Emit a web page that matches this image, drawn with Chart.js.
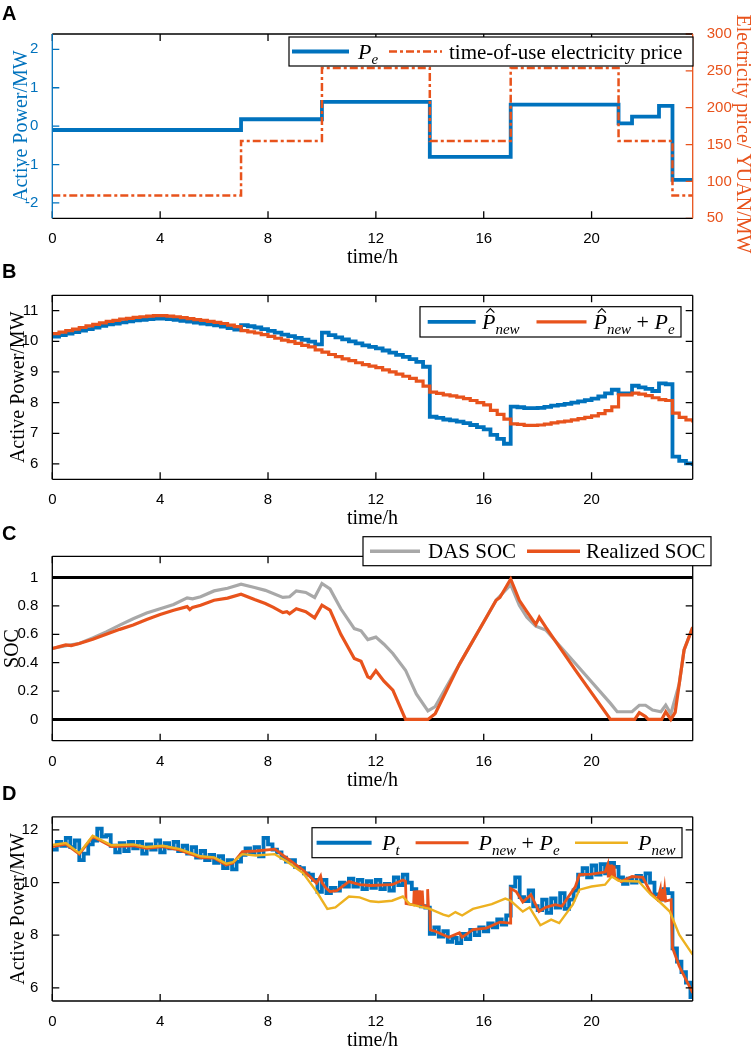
<!DOCTYPE html>
<html>
<head>
<meta charset="utf-8">
<title>Battery dispatch - active power, SOC and price</title>
<script src="https://cdn.jsdelivr.net/npm/chart.js@4.4.1/dist/chart.umd.min.js"></script>
<style>
  html, body { margin: 0; padding: 0; background: #fff; }
  #page { position: relative; width: 754px; height: 1048px; overflow: hidden; }
  #page canvas { position: absolute; left: 0; }
</style>
</head>
<body>
<div id="page">
  <canvas id="chartA" width="754" height="272" style="top:0px"></canvas>
  <canvas id="chartB" width="754" height="272" style="top:258px"></canvas>
  <canvas id="chartC" width="754" height="272" style="top:518px"></canvas>
  <canvas id="chartD" width="754" height="270" style="top:778px"></canvas>
</div>
<script>
// ---- data ----
var xTicks = [0, 4, 8, 12, 16, 20];
var powerTicksA = [-2, -1, 0, 1, 2];
var priceTicks = [50, 100, 150, 200, 250, 300];
var powerTicksB = [6, 7, 8, 9, 10, 11];
var socTicks = [0, 0.2, 0.4, 0.6, 0.8, 1];
var powerTicksD = [6, 8, 10, 12];

// A: step profile of storage power and TOU price
var peTimes = [0, 7, 10, 14, 17, 21, 21.5, 22.5, 23, 23.75];
var peValues = [-0.1, 0.18, 0.63, -0.8, 0.56, 0.07, 0.25, 0.53, -1.4, -1.4];
var priceTimes = [0, 7, 10, 14, 17, 21, 23, 23.75];
var priceValues = [81, 155, 254, 155, 254, 155, 81, 81];

// B: 15-min forecasts
var pHatNew = [
  10.15, 10.2, 10.25, 10.3, 10.35, 10.4, 10.45, 10.5,
  10.55, 10.58, 10.62, 10.65, 10.68, 10.7, 10.72, 10.74,
  10.74, 10.72, 10.7, 10.67, 10.64, 10.61, 10.58, 10.55,
  10.52, 10.48, 10.43, 10.38, 10.53, 10.49, 10.45, 10.4,
  10.34, 10.28, 10.22, 10.17, 10.11, 10.05, 9.99, 9.9,
  10.28, 10.2, 10.13, 10.06, 10.0, 9.93, 9.87, 9.82,
  9.77, 9.7, 9.63, 9.56, 9.49, 9.42, 9.33, 9.17,
  7.54, 7.5, 7.45, 7.42, 7.38, 7.33, 7.27, 7.2,
  7.13, 6.95, 6.82, 6.66, 7.87, 7.85, 7.82, 7.82,
  7.83, 7.86, 7.9, 7.93, 7.96, 8.0, 8.04, 8.08,
  8.13, 8.2, 8.3, 8.42, 8.3, 8.3, 8.55, 8.5,
  8.45, 8.38, 8.63, 8.6, 6.24, 6.1, 6.02, 5.93
];
var pHatNewPlusPe = [
  10.25, 10.3, 10.35, 10.4, 10.45, 10.5, 10.55, 10.6,
  10.65, 10.68, 10.72, 10.75, 10.78, 10.8, 10.82, 10.84,
  10.84, 10.82, 10.8, 10.77, 10.74, 10.71, 10.68, 10.65,
  10.62, 10.58, 10.53, 10.48, 10.35, 10.31, 10.27, 10.22,
  10.16, 10.1, 10.04, 9.99, 9.93, 9.87, 9.82, 9.72,
  9.65, 9.57, 9.5, 9.43, 9.37, 9.3, 9.24, 9.19,
  9.14, 9.07, 9.0, 8.93, 8.86, 8.79, 8.7, 8.54,
  8.34, 8.3, 8.25, 8.22, 8.18, 8.13, 8.07, 8.0,
  7.93, 7.75, 7.62, 7.46, 7.31, 7.29, 7.26, 7.26,
  7.27, 7.3, 7.34, 7.37, 7.4, 7.44, 7.48, 7.52,
  7.57, 7.64, 7.74, 7.86, 8.25, 8.25, 8.31, 8.28,
  8.23, 8.16, 8.1, 8.07, 7.66, 7.52, 7.44, 7.35
];

// C: state of charge
var dasTimes = [0, 0.5, 1, 1.5, 2, 2.5, 3, 3.5, 4, 4.5, 5, 5.2, 5.5, 6, 6.5, 7, 7.5, 7.9,
  8.55, 8.8, 9.05, 9.4, 9.73, 10, 10.3, 10.7, 11.2, 11.45, 11.7, 12, 12.3, 12.63, 13.1,
  13.5, 13.93, 14.2, 15.1, 16.1, 16.46, 17, 17.32, 17.6, 17.93, 18.3, 19.4, 20.7, 20.95,
  21.5, 21.77, 22, 22.26, 22.57, 22.75, 22.94, 23.25, 23.43, 23.75];
var dasSoc = [0.5, 0.52, 0.535, 0.575, 0.617, 0.665, 0.71, 0.75, 0.78, 0.81, 0.857, 0.85,
  0.865, 0.906, 0.925, 0.953, 0.93, 0.91, 0.86, 0.865, 0.906, 0.895, 0.86, 0.958, 0.92,
  0.78, 0.64, 0.625, 0.563, 0.58, 0.53, 0.465, 0.347, 0.18, 0.06, 0.09, 0.39, 0.72, 0.84,
  0.95, 0.805, 0.72, 0.657, 0.63, 0.394, 0.113, 0.054, 0.054, 0.1, 0.1, 0.066, 0.054, 0.1,
  0.04, 0.25, 0.49, 0.65];
var realTimes = [0, 0.3, 0.5, 0.7, 1, 1.5, 2, 2.5, 3, 3.5, 4, 4.5, 5, 5.1, 5.2, 5.5, 6, 6.5,
  7, 7.5, 7.9, 8.2, 8.55, 8.7, 8.8, 9.05, 9.4, 9.73, 10, 10.3, 10.7, 11.2, 11.45, 11.7, 11.8,
  12, 12.3, 12.63, 13.1, 13.93, 14.2, 15.1, 16.1, 16.46, 16.6, 17, 17.32, 17.6, 17.93, 18.06,
  18.3, 19.4, 20.7, 21.6, 21.77, 22, 22.1, 22.6, 22.75, 22.94, 23.1, 23.25, 23.43, 23.75];
var realSoc = [0.5, 0.515, 0.525, 0.52, 0.535, 0.565, 0.6, 0.635, 0.665, 0.705, 0.74, 0.77,
  0.795, 0.775, 0.79, 0.805, 0.84, 0.855, 0.883, 0.845, 0.817, 0.79, 0.753, 0.76, 0.745,
  0.78, 0.76, 0.716, 0.805, 0.77, 0.6, 0.43, 0.41, 0.3, 0.29, 0.343, 0.27, 0.207, 0, 0, 0.04,
  0.39, 0.72, 0.84, 0.86, 0.99, 0.84, 0.76, 0.67, 0.72, 0.65, 0.347, 0, 0, 0.047, 0.02, 0,
  0, 0.054, 0, 0.05, 0.25, 0.49, 0.65];
var socLimitTimes = [0, 23.75];
var socMin = [0, 0];
var socMax = [1, 1];

// D: realized power (10-min), plan + storage, plan
var pT = [
  11.25, 11.55, 11.4, 11.7, 11.35, 11.6,
  10.85, 11.1, 11.45, 11.6, 12.05, 11.75,
  11.8, 11.4, 11.15, 11.5, 11.2, 11.55,
  11.3, 11.55, 11.1, 11.45, 11.25, 11.6,
  11.15, 11.5, 11.3, 11.55, 11.2, 11.4,
  11.1, 11.35, 10.95, 11.2, 10.85, 11.05,
  10.75, 11.0, 10.55, 10.85, 10.5, 10.8,
  11.05, 11.3, 11.1, 11.35, 11.0, 11.7,
  11.45, 11.25, 11.15, 10.95, 10.8, 10.85,
  10.6, 10.55, 10.35, 10.3, 10.1, 9.65,
  10.1, 9.6, 9.8, 9.7, 10.0, 9.85,
  10.15, 9.85, 10.1, 9.75, 10.05, 9.8,
  10.1, 9.75, 9.95, 9.7, 10.2, 9.9,
  10.3, 10.0, 9.75, 9.25, 9.1, 9.05,
  8.05, 8.3, 7.95, 8.15, 7.75, 7.9,
  7.7, 8.05, 7.85, 8.2, 8.0, 8.3,
  8.15, 8.45, 8.3, 8.6, 8.4, 8.75,
  9.85, 10.2, 9.45, 9.3, 9.7, 9.1,
  8.95, 9.35, 8.85, 9.4, 9.05, 9.6,
  9.0, 9.35, 9.7, 10.3, 10.55, 10.2,
  10.65, 10.3, 10.7, 10.35, 10.75, 10.6,
  10.2, 9.95, 10.15, 10.0, 10.25, 10.05,
  10.35, 10.0, 9.55, 9.35, 9.75, 9.6,
  7.5, 7.0, 6.6, 6.2, 5.65, 5.85
];
var newPeTimes = [0, 0.5, 1, 1.5, 2.2, 3, 3.5, 4.1, 4.7, 5.5, 6, 6.45, 6.7, 7.05, 7.55,
  8.25, 8.7, 9.3, 9.8, 9.95, 10, 10.15, 10.3, 10.55, 11, 11.4, 11.8, 12.6, 13, 13.1, 13.12,
  13.4, 13.42, 13.47, 13.52, 13.57, 13.62, 13.67, 13.72, 13.75, 13.9, 13.92, 13.95, 14,
  14.02, 14.2, 14.7, 15.1, 15.2, 15.6, 16.1, 16.6, 16.98, 17, 17.2, 17.45, 17.75, 18.05,
  18.3, 18.65, 18.9, 19.4, 19.55, 20, 20.5, 20.6, 20.62, 20.67, 20.7, 20.75, 20.78, 20.83,
  20.86, 21.1, 21.5, 21.9, 22.2, 22.45, 22.55, 22.58, 22.63, 22.66, 22.71, 22.75, 22.95,
  23, 23.25, 23.75];
var newPeValues = [11.37, 11.46, 11.08, 11.75, 11.37, 11.4, 11.3, 11.37, 11.24, 10.95,
  10.93, 10.67, 10.74, 11.18, 11.2, 11.27, 10.93, 10.48, 9.98, 10.25, 10.0, 9.79, 9.66,
  9.69, 10.04, 9.92, 9.89, 9.92, 10.1, 10.05, 9.2, 9.15, 9.7, 9.15, 9.7, 9.15, 9.7, 9.15,
  9.7, 9.15, 9.05, 9.75, 9.05, 9.0, 8.2, 8.15, 7.92, 8.09, 7.92, 8.21, 8.27, 8.5, 8.46,
  9.77, 9.66, 9.26, 9.54, 8.9, 9.06, 9.16, 9.1, 9.85, 10.3, 10.32, 10.4, 10.68, 10.2,
  10.68, 10.2, 10.68, 10.2, 10.65, 10.2, 10.04, 10.23, 10.2, 9.6, 9.35, 9.75, 9.3, 9.75,
  9.3, 9.75, 9.3, 9.35, 7.52, 6.82, 5.81];
var newTimes = [0, 0.5, 1, 1.5, 2.2, 3, 3.5, 4.1, 4.7, 5.5, 6, 6.45, 6.7, 7.05, 7.55, 8.25,
  8.7, 9.3, 9.8, 10.2, 10.5, 11, 11.4, 11.8, 12.1, 12.6, 13, 13.25, 14, 14.5, 14.7, 14.95,
  15.2, 15.6, 16.3, 16.8, 17, 17.45, 17.7, 18.1, 18.5, 18.8, 19.3, 19.55, 20, 20.5, 20.75,
  21, 21.75, 22.2, 22.5, 22.9, 23.25, 23.75];
var newValues = [11.43, 11.5, 11.12, 11.78, 11.42, 11.45, 11.35, 11.4, 11.28, 11.0, 10.96,
  10.72, 10.78, 11.08, 11.03, 11.08, 10.8, 10.36, 9.66, 9.0, 9.06, 9.47, 9.44, 9.29, 9.26,
  9.31, 9.47, 9.18, 9.0, 8.78, 8.72, 8.88, 8.75, 9.0, 9.18, 9.39, 9.31, 8.9, 9.06, 8.38,
  8.59, 8.46, 9.16, 9.73, 9.85, 9.92, 10.23, 10.07, 10.04, 9.54, 9.29, 8.9, 8.02, 7.26];

// ---- styling ----
var BLUE = '#0072BD';
var ORANGE = '#E8531C';
var YELLOW = '#EDB120';
var GRAY = '#A8A8A8';
var SANS = '"Liberation Sans", Arial, Helvetica, sans-serif';
var SERIF = '"Liberation Serif", "Times New Roman", serif';
var PLOT_LEFT = 52.3;
var PLOT_RIGHT = 692.7;
var TICK_LEN = 7;

function pairs(xs, ys) {
  var out = [];
  for (var i = 0; i < xs.length; i++) out.push({x: xs[i], y: ys[i]});
  return out;
}
function onGrid(values, step) {
  var out = [];
  for (var i = 0; i < values.length; i++) out.push({x: i * step, y: values[i]});
  return out;
}

var P = {t: 'P', it: true};
var PHAT = {t: 'P', it: true, hat: true};
var SUB_NEW = {t: 'new', it: true, sub: true};
var SUB_E = {t: 'e', it: true, sub: true};
var PLUS = {t: ' + ', math: true};

// page coordinates of each panel
var panels = {
  chartA: {
    top: 0, height: 272, plotTop: 34, plotBottom: 218.3, letter: 'A', letterY: 20,
    leftColor: BLUE, rightColor: ORANGE,
    yTitle: {text: 'Active Power/MW', x: 27, color: BLUE},
    y2Title: {text: 'Electricity price/ YUAN/MW', x: 737, color: ORANGE},
    legend: {
      box: [289, 37, 404, 29],
      items: [
        {x: 292, len: 57, tx: 358, color: BLUE, width: 3.8, text: [P, SUB_E]},
        {x: 389, len: 53, tx: 449, color: ORANGE, width: 2.5, dash: [8, 3, 3, 3], text: [{t: 'time-of-use electricity price'}]}
      ]
    }
  },
  chartB: {
    top: 258, height: 272, plotTop: 295.3, plotBottom: 479.3, letter: 'B', letterY: 278,
    yTitle: {text: 'Active Power/MW', x: 24, color: '#000'},
    legend: {
      box: [420, 306.7, 261, 30.3],
      items: [
        {x: 427.7, len: 48, tx: 482, color: BLUE, width: 3.8, text: [PHAT, SUB_NEW]},
        {x: 536.5, len: 50, tx: 593.5, color: ORANGE, width: 3.2, text: [PHAT, SUB_NEW, PLUS, P, SUB_E]}
      ]
    }
  },
  chartC: {
    top: 518, height: 272, plotTop: 556.3, plotBottom: 740.7, letter: 'C', letterY: 540,
    yTitle: {text: 'SOC', x: 18, color: '#000'},
    legend: {
      box: [363, 536.7, 348, 29],
      items: [
        {x: 370, len: 50, tx: 428, color: GRAY, width: 3.5, text: [{t: 'DAS SOC'}]},
        {x: 527, len: 53, tx: 586, color: ORANGE, width: 3.5, text: [{t: 'Realized SOC'}]}
      ]
    }
  },
  chartD: {
    top: 778, height: 270, plotTop: 816.8, plotBottom: 1001, letter: 'D', letterY: 800,
    yTitle: {text: 'Active Power/MW', x: 24, color: '#000'},
    legend: {
      box: [312, 827.7, 370, 30],
      items: [
        {x: 316.6, len: 55, tx: 382, color: BLUE, width: 4, text: [P, {t: 't', it: true, sub: true}]},
        {x: 415.6, len: 53, tx: 478.5, color: ORANGE, width: 3, text: [P, SUB_NEW, PLUS, P, SUB_E]},
        {x: 575, len: 53, tx: 638, color: YELLOW, width: 2.6, text: [P, SUB_NEW]}
      ]
    }
  }
};

function drawRuns(ctx, runs, x, base) {
  for (var i = 0; i < runs.length; i++) {
    var r = runs[i];
    var size = r.sub ? 15 : (r.it || r.math ? 22 : 21);
    var y = base + (r.sub ? 5 : 0);
    ctx.font = (r.it ? 'italic ' : '') + size + 'px ' + SERIF;
    ctx.fillText(r.t, x, y);
    var w = ctx.measureText(r.t).width;
    if (r.hat) {
      var cx = x + w * 0.62;
      var ty = y - size * 0.74;
      ctx.beginPath();
      ctx.lineWidth = 1.1;
      ctx.strokeStyle = '#000';
      ctx.moveTo(cx - 4, ty);
      ctx.lineTo(cx, ty - 4);
      ctx.lineTo(cx + 4, ty);
      ctx.stroke();
    }
    x += w;
  }
}

function segment(ctx, x1, y1, x2, y2, color) {
  ctx.strokeStyle = color;
  ctx.beginPath();
  ctx.moveTo(x1, y1);
  ctx.lineTo(x2, y2);
  ctx.stroke();
}

// MATLAB-like box with inward ticks, titles and boxed legend
var matlabAxes = {
  id: 'matlabAxes',
  afterDatasetsDraw: function (chart) {
    var p = panels[chart.canvas.id];
    var ctx = chart.ctx;
    var a = chart.chartArea;
    var xs = chart.scales.x;
    var ys = chart.scales.y;
    var y2 = chart.scales.y2;
    var left = p.leftColor || '#000';
    var right = p.rightColor || '#000';
    ctx.save();
    ctx.lineWidth = 1.3;
    ctx.strokeStyle = '#000';
    ctx.beginPath();
    xs.ticks.forEach(function (t) {
      var px = xs.getPixelForValue(t.value);
      ctx.moveTo(px, a.bottom); ctx.lineTo(px, a.bottom - TICK_LEN);
      ctx.moveTo(px, a.top); ctx.lineTo(px, a.top + TICK_LEN);
    });
    ctx.stroke();
    ctx.strokeStyle = left;
    ctx.beginPath();
    ys.ticks.forEach(function (t) {
      var py = ys.getPixelForValue(t.value);
      ctx.moveTo(a.left, py); ctx.lineTo(a.left + TICK_LEN, py);
      if (!y2) { ctx.moveTo(a.right, py); ctx.lineTo(a.right - TICK_LEN, py); }
    });
    ctx.stroke();
    if (y2) {
      ctx.strokeStyle = right;
      ctx.beginPath();
      y2.ticks.forEach(function (t) {
        var py = y2.getPixelForValue(t.value);
        ctx.moveTo(a.right, py); ctx.lineTo(a.right - TICK_LEN, py);
      });
      ctx.stroke();
    }
    segment(ctx, a.left, a.top, a.right, a.top, '#000');
    segment(ctx, a.left, a.bottom, a.right, a.bottom, '#000');
    segment(ctx, a.left, a.top, a.left, a.bottom, left);
    segment(ctx, a.right, a.top, a.right, a.bottom, right);
    ctx.restore();
  },
  afterDraw: function (chart) {
    var p = panels[chart.canvas.id];
    var ctx = chart.ctx;
    var a = chart.chartArea;
    ctx.save();
    ctx.translate(0, -p.top);

    ctx.fillStyle = '#000';
    ctx.font = 'bold 20px ' + SANS;
    ctx.textBaseline = 'alphabetic';
    ctx.textAlign = 'left';
    ctx.fillText(p.letter, 2, p.letterY);

    ctx.font = '20px ' + SERIF;
    ctx.textAlign = 'center';
    ctx.fillText('time/h', (a.left + a.right) / 2, p.plotBottom + 45);

    var midY = (p.plotTop + p.plotBottom) / 2;
    ctx.save();
    ctx.translate(p.yTitle.x, midY);
    ctx.rotate(-Math.PI / 2);
    ctx.fillStyle = p.yTitle.color;
    ctx.fillText(p.yTitle.text, 0, 0);
    ctx.restore();
    if (p.y2Title) {
      ctx.save();
      ctx.translate(p.y2Title.x, 134);
      ctx.rotate(Math.PI / 2);
      ctx.fillStyle = p.y2Title.color;
      ctx.fillText(p.y2Title.text, 0, 0);
      ctx.restore();
    }

    var lg = p.legend;
    var b = lg.box;
    ctx.fillStyle = '#fff';
    ctx.fillRect(b[0], b[1], b[2], b[3]);
    ctx.lineWidth = 1.2;
    ctx.strokeStyle = '#000';
    ctx.strokeRect(b[0], b[1], b[2], b[3]);
    var cy = b[1] + b[3] / 2;
    ctx.textAlign = 'left';
    lg.items.forEach(function (it) {
      ctx.beginPath();
      ctx.setLineDash(it.dash || []);
      ctx.strokeStyle = it.color;
      ctx.lineWidth = it.width;
      ctx.moveTo(it.x, cy);
      ctx.lineTo(it.x + it.len, cy);
      ctx.stroke();
      ctx.setLineDash([]);
      ctx.fillStyle = '#000';
      drawRuns(ctx, it.text, it.tx, cy + 7);
    });
    ctx.restore();
  }
};

function fixedTicks(values) {
  return function (s) { s.ticks = values.map(function (v) { return {value: v}; }); };
}
function tickLabel(v) {
  return String(Math.round(v * 100) / 100);
}

function options(id, yScale, y2Scale) {
  var p = panels[id];
  var xHeight = p.height - (p.plotBottom - p.top);
  var scales = {
    x: {
      type: 'linear', min: 0, max: 23.75,
      afterBuildTicks: fixedTicks(xTicks),
      ticks: {color: '#000', font: {family: SANS, size: 15}, padding: 4, maxRotation: 0, autoSkip: false, callback: tickLabel},
      grid: {display: false}, border: {display: false},
      afterFit: function (s) { s.height = xHeight; }
    },
    y: yScale
  };
  yScale.afterFit = function (s) { s.width = PLOT_LEFT; };
  yScale.grid = {display: false};
  yScale.border = {display: false};
  if (y2Scale) {
    y2Scale.afterFit = function (s) { s.width = 754 - PLOT_RIGHT; };
    y2Scale.grid = {display: false};
    y2Scale.border = {display: false};
    scales.y2 = y2Scale;
  }
  return {
    responsive: false,
    animation: false,
    events: [],
    layout: {padding: {top: p.plotTop - p.top, left: 0, bottom: 0, right: y2Scale ? 0 : 754 - PLOT_RIGHT}},
    elements: {point: {radius: 0}, line: {tension: 0, borderJoinStyle: 'miter'}},
    plugins: {legend: {display: false}, tooltip: {enabled: false}},
    scales: scales
  };
}

function yAxis(min, max, ticks, color, position) {
  return {
    type: 'linear', position: position || 'left', min: min, max: max,
    afterBuildTicks: fixedTicks(ticks),
    ticks: {color: color || '#000', font: {family: SANS, size: 15}, padding: 6, autoSkip: false, callback: tickLabel}
  };
}

new Chart(document.getElementById('chartA'), {
  type: 'line',
  data: {
    datasets: [
      {data: pairs(priceTimes, priceValues), yAxisID: 'y2', borderColor: ORANGE, borderWidth: 2.5, borderDash: [8, 3, 3, 3], stepped: true},
      {data: pairs(peTimes, peValues), yAxisID: 'y', borderColor: BLUE, borderWidth: 3.8, stepped: true}
    ]
  },
  options: options('chartA', yAxis(-2.4, 2.4, powerTicksA, BLUE), yAxis(50, 300, priceTicks, ORANGE, 'right')),
  plugins: [matlabAxes]
});

new Chart(document.getElementById('chartB'), {
  type: 'line',
  data: {
    datasets: [
      {data: onGrid(pHatNewPlusPe, 0.25), borderColor: ORANGE, borderWidth: 3.2, stepped: true},
      {data: onGrid(pHatNew, 0.25), borderColor: BLUE, borderWidth: 3.8, stepped: true}
    ]
  },
  options: options('chartB', yAxis(5.5, 11.5, powerTicksB)),
  plugins: [matlabAxes]
});

new Chart(document.getElementById('chartC'), {
  type: 'line',
  data: {
    datasets: [
      {data: pairs(realTimes, realSoc), borderColor: ORANGE, borderWidth: 3.2},
      {data: pairs(dasTimes, dasSoc), borderColor: GRAY, borderWidth: 3.2},
      {data: pairs(socLimitTimes, socMax), borderColor: '#000', borderWidth: 3},
      {data: pairs(socLimitTimes, socMin), borderColor: '#000', borderWidth: 3}
    ]
  },
  options: options('chartC', yAxis(-0.15, 1.15, socTicks)),
  plugins: [matlabAxes]
});

new Chart(document.getElementById('chartD'), {
  type: 'line',
  data: {
    datasets: [
      {data: pairs(newTimes, newValues), borderColor: YELLOW, borderWidth: 2.4},
      {data: pairs(newPeTimes, newPeValues), borderColor: ORANGE, borderWidth: 2.8},
      {data: onGrid(pT, 1 / 6), borderColor: BLUE, borderWidth: 3.8, stepped: true}
    ]
  },
  options: options('chartD', yAxis(5.5, 12.5, powerTicksD)),
  plugins: [matlabAxes]
});
</script>
</body>
</html>
